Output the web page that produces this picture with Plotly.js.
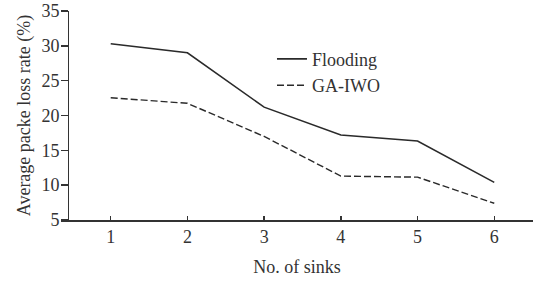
<!DOCTYPE html>
<html>
<head>
<meta charset="utf-8">
<script src="https://cdn.plot.ly/plotly-3.0.1.min.js"></script>
<style>html,body{margin:0;padding:0;background:#fff;}#chart{width:533px;height:284px;}</style>
</head>
<body>
<div id="chart"></div>
<script>
const sinks = [1, 2, 3, 4, 5, 6];
const flooding = [30.3, 29.0, 21.2, 17.2, 16.35, 10.4];
const gaiwo = [22.55, 21.75, 17.0, 11.3, 11.15, 7.4];
const yTicks = [5, 10, 15, 20, 25, 30, 35];

const font = {family: '"Liberation Serif", "Times New Roman", serif', size: 18, color: '#333'};

const traces = [
  {x: sinks, y: flooding, name: 'Flooding', mode: 'lines', line: {color: '#2a2a2a', width: 1.6}},
  {x: sinks, y: gaiwo, name: 'GA-IWO', mode: 'lines', line: {color: '#2a2a2a', width: 1.4, dash: '7px,3px'}}
];

const layout = {
  width: 533, height: 284,
  margin: {l: 61, r: 0, t: 11, b: 64},
  paper_bgcolor: '#fff', plot_bgcolor: '#fff',
  font: font,
  showlegend: true,
  legend: {x: 0.447, y: 0.858, xanchor: 'left', yanchor: 'top', bgcolor: 'rgba(0,0,0,0)', font: font, tracegroupgap: 0},
  xaxis: {
    range: [0.352, 6.505], tickvals: sinks, ticks: 'inside', ticklen: 4, tickwidth: 1.5, tickcolor: '#333',
    showline: true, linecolor: '#333', linewidth: 1.5, showgrid: false, zeroline: false,
    title: {text: 'No. of sinks', font: font, standoff: 14},
    tickfont: font
  },
  yaxis: {
    range: [5, 35], tickvals: yTicks, ticks: 'outside', ticklen: 7, tickwidth: 1.5, tickcolor: '#333',
    showline: true, linecolor: '#333', linewidth: 1.5, showgrid: false, zeroline: false,
    anchor: 'free', position: 0.0148, ticklabelstandoff: -2,
    title: {text: 'Average packe loss rate (%)', font: font, standoff: 4},
    tickfont: font
  }
};

Plotly.newPlot('chart', traces, layout, {displayModeBar: false, staticPlot: true});
</script>
</body>
</html>
